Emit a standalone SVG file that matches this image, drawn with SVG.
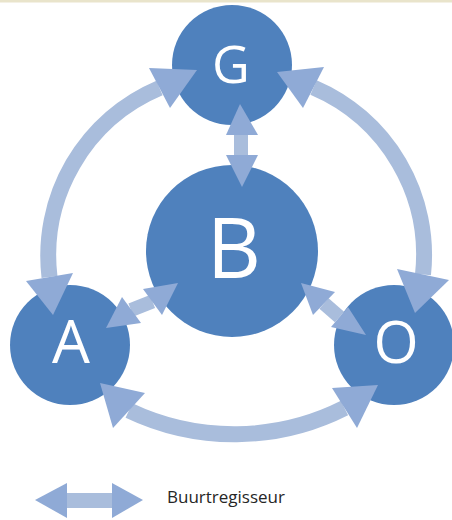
<svg xmlns="http://www.w3.org/2000/svg" width="452" height="520" viewBox="0 0 452 520">
<style>
.node{fill:#4f81bd}
.lbl{fill:#ffffff;font-family:"Open Sans","Liberation Sans",sans-serif;text-anchor:middle}
.shaft{fill:none;stroke:#a9bddc;stroke-width:16}
.shaft2{fill:none;stroke:#a9bddc;stroke-width:14}
.head{fill:#8faad6}
.legend{fill:#262626;font-family:"Open Sans","Liberation Sans",sans-serif;font-size:17px}
</style>
<rect x="0" y="0" width="452" height="520" fill="#ffffff"/>
<rect x="0" y="0" width="452" height="2.5" fill="#e9e4cb"/>
<g id="node-G"><circle class="node" cx="232" cy="65" r="60"/><text class="lbl" x="231" y="83" font-size="52">G</text></g>
<g id="node-B"><circle class="node" cx="232" cy="251" r="86"/><text class="lbl" x="234" y="278" font-size="84">B</text></g>
<g id="node-A"><circle class="node" cx="70" cy="345" r="60"/><text class="lbl" x="71" y="363" font-size="60">A</text></g>
<g id="node-O"><circle class="node" cx="394" cy="345" r="60"/><text class="lbl" x="396" y="363" font-size="58">O</text></g>
<g id="connectors">
<path class="shaft" d="M49.5,277 A182,182 0 0 1 159.5,88"/>
<polygon class="head" points="26,281 73,273 53,315"/>
<polygon class="head" points="149,68 197,70 170,108"/>
<path class="shaft" d="M313.5,87.5 A182,182 0 0 1 423,274.5"/>
<polygon class="head" points="277,72 324,67 303,108"/>
<polygon class="head" points="397,269 449,280 415,313"/>
<path class="shaft" d="M129,410.5 A245,245 0 0 0 344.5,408"/>
<polygon class="head" points="100,383 145,393 113,428"/>
<polygon class="head" points="378,385 332,388 357,428"/>
<path class="shaft2" d="M241,135 L241,155"/>
<polygon class="head" points="240,104 226,135 258,135"/>
<polygon class="head" points="242,187 226,155 258,155"/>
<path class="shaft2" d="M131,310 L152.5,301.5"/>
<polygon class="head" points="143,289 178,283 162,315"/>
<polygon class="head" points="122,297 106,328 141,323"/>
<path class="shaft2" d="M324,303.5 L339.5,317"/>
<polygon class="head" points="301,283 335,292 313,315"/>
<polygon class="head" points="348,307 331,327 366,335"/>
</g>
<g id="legend">
<rect x="66" y="493" width="47" height="15" fill="#a9bddc"/>
<polygon class="head" points="35,500 67,483 67,518"/>
<polygon class="head" points="143,500 112,483 112,518"/>
<text class="legend" x="167" y="503">Buurtregisseur</text>
</g>
</svg>
